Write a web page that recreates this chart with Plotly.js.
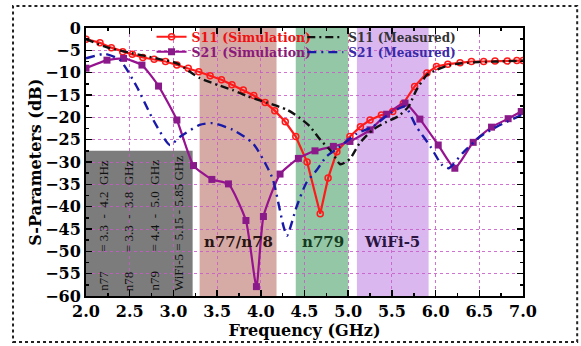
<!DOCTYPE html>
<html><head><meta charset="utf-8">
<script src="https://cdn.plot.ly/plotly-3.0.1.min.js"></script>
<style>html,body{margin:0;padding:0;background:#fff}</style>
</head><body><div id="chart" style="width:581px;height:346px"></div>
<script>
// S11 (Simulation)
const s11SimF = [2.0,2.16,2.29,2.42,2.53,2.65,2.78,2.91,3.04,3.17,3.29,3.42,3.55,3.67,3.80,3.92,4.05,4.16,4.28,4.40,4.53,4.68,4.77,4.87,5.02,5.14,5.25,5.38,5.51,5.63,5.76,5.90,6.01,6.14,6.28,6.41,6.55,6.68,6.82,6.93,7.0];
const s11SimDB = [-2.5,-3.3,-4.4,-5.3,-5.9,-6.6,-7.0,-7.5,-8.3,-9.0,-9.8,-10.7,-11.6,-12.7,-13.9,-15.1,-16.7,-18.5,-21,-24.3,-30,-41.6,-33.6,-27.7,-24.3,-22.1,-20.6,-19.5,-18.7,-16.9,-13.1,-10.1,-8.6,-8.1,-7.8,-7.5,-7.5,-7.4,-7.4,-7.3,-7.3];
// S21 (Simulation)
const s21SimF = [2.0,2.24,2.43,2.64,2.83,3.04,3.23,3.44,3.63,3.83,3.95,4.03,4.22,4.43,4.62,4.83,5.02,5.25,5.44,5.65,5.82,6.03,6.22,6.43,6.64,6.83,6.98];
const s21SimDB = [-9.0,-7.2,-6.8,-8.3,-13,-20.6,-30.8,-33.9,-34.9,-43.1,-57.9,-42.2,-32.7,-29.2,-27.5,-26.5,-25.4,-22.8,-19.3,-16.8,-20.4,-26.2,-31.4,-25.6,-22.2,-20.3,-18.7];
// S11 (Measured)
const s11MeasF = [2.0,2.25,2.54,2.8,3.04,3.30,3.53,3.68,3.85,4.07,4.30,4.45,4.56,4.68,4.81,4.91,5.02,5.13,5.28,5.44,5.57,5.69,5.78,5.90,6.01,6.16,6.3,6.5,6.7,7.0];
const s11MeasDB = [-2.5,-4.4,-5.7,-6.8,-7.9,-11.2,-12.9,-13.9,-15.3,-16.7,-18.3,-20.2,-22,-25,-27.7,-30.5,-29.3,-25.8,-22.8,-21,-19.8,-17.6,-13.9,-10.5,-9.4,-8.3,-7.9,-7.6,-7.5,-7.3];
// S21 (Measured)
const s21MeasF = [2.0,2.22,2.39,2.58,2.77,2.96,3.08,3.30,3.45,3.68,3.91,4.07,4.14,4.26,4.30,4.41,4.52,4.64,4.75,4.91,5.10,5.28,5.48,5.65,5.78,5.94,6.07,6.15,6.31,6.51,6.70,6.98];
const s21MeasDB = [-6.8,-5.8,-7.2,-13.1,-20.6,-26.2,-24.3,-21.7,-21.3,-22.8,-25.8,-31,-34,-44.4,-46.5,-40,-34.7,-31.8,-28.8,-26.5,-23.6,-22.1,-19.1,-17.6,-22.1,-26.5,-30.6,-31.4,-28,-24.3,-22.1,-19.5];

// Frequency bands
const bandNames = ['n77/n78','n779','WiFi-5'];
const bandStart = [3.3,4.4,5.1];
const bandEnd = [4.18,5.0,5.92];
const bandNotes = [
  'n77\u00a0\u00a0\u00a0\u00a0\u00a0\u00a0= 3.3\u00a0\u00a0-\u00a0\u00a04.2\u00a0\u00a0GHz',
  'n78\u00a0\u00a0\u00a0\u00a0\u00a0\u00a0= 3.3\u00a0\u00a0-\u00a0\u00a03.8\u00a0\u00a0GHz',
  'n79\u00a0\u00a0\u00a0\u00a0\u00a0\u00a0= 4.4\u00a0\u00a0-\u00a0\u00a05.0\u00a0\u00a0GHz',
  'WiFi-5 = 5.15 - 5.85 GHz'
];
const noteX = [2.2,2.49,2.78,3.06];

const FONT = 'DejaVu Serif';
const traces = [
  {x:s11SimF, y:s11SimDB, mode:'lines+markers', name:'<span style="color:#ee1111">S11 (Simulation)</span>',
   line:{color:'#ff1a1a', width:2.2}, marker:{symbol:'circle-open', size:6, color:'#ff1a1a', line:{width:1.5}}, legend:'legend'},
  {x:s21SimF, y:s21SimDB, mode:'lines+markers', name:'<span style="color:#8a1a7a">S21 (Simulation)</span>',
   line:{color:'#961290', width:2.2, shape:'spline', smoothing:0.5}, marker:{symbol:'square', size:7, color:'#8a1a8a'}, legend:'legend2'},
  {x:s11MeasF, y:s11MeasDB, mode:'lines', name:'<span style="color:#333333">S11 (Measured)</span>',
   line:{color:'#111111', width:2.4, dash:'8px,4px,2px,4px', shape:'spline', smoothing:0.6}, legend:'legend3'},
  {x:s21MeasF, y:s21MeasDB, mode:'lines', name:'<span style="color:#3a2aa8">S21 (Measured)</span>',
   line:{color:'#1a1aa8', width:2.4, dash:'9px,5px,2px,5px', shape:'spline', smoothing:0.6}, legend:'legend4'}
];

const bandColors = ['rgba(190,120,110,0.62)','rgba(80,165,110,0.62)','rgba(195,135,230,0.6)'];
const shapes = [];
for (let i=0;i<bandNames.length;i++){
  shapes.push({type:'rect', xref:'x', yref:'y', x0:bandStart[i], x1:bandEnd[i], y0:-60, y1:0,
    fillcolor:bandColors[i], line:{width:0}, layer:'below'});
}
shapes.push({type:'rect', xref:'x', yref:'y', x0:2.0, x1:3.22, y0:-60, y1:-27.5,
  fillcolor:'rgba(110,110,110,0.9)', line:{width:0}, layer:'below'});
shapes.push({type:'rect', xref:'paper', yref:'paper', x0:-0.167, x1:1.124, y0:-0.172, y1:1.082,
  line:{color:'#222', width:2, dash:'dot'}, fillcolor:'rgba(0,0,0,0)', layer:'below'});

const annotations = [];
const labelX = [3.75,4.71,5.5];
const labelCol = ['#2a1414','#143a20','#2a1440'];
for (let i=0;i<bandNames.length;i++){
  annotations.push({x:labelX[i], y:-48, xref:'x', yref:'y', text:bandNames[i], showarrow:false,
    font:{family:FONT, size:15, weight:'bold', color:labelCol[i]}});
}
for (let i=0;i<bandNotes.length;i++){
  annotations.push({x:noteX[i], y:-59.3, xref:'x', yref:'y', text:bandNotes[i], showarrow:false,
    textangle:-90, yanchor:'bottom', xanchor:'center', font:{family:'Liberation Serif', size:13, color:'#111'}});
}
annotations.push({x:-0.117, y:0.5, xref:'paper', yref:'paper', text:'S-Parameters (dB)', showarrow:false,
  textangle:-90, xanchor:'center', yanchor:'middle', font:{family:FONT, size:16, weight:'bold', color:'#000'}});

function leg(xp, yp, w, fs){
  return {x:xp, y:yp, xanchor:'left', yanchor:'middle', bgcolor:'rgba(0,0,0,0)', borderwidth:0,
    font:{family:FONT, size:fs, weight:'bold'}, itemwidth:w, tracegroupgap:0};
}

const axisCommon = {showline:true, linecolor:'#000', linewidth:2, mirror:'ticks', ticks:'inside',
  ticklen:6, tickwidth:1.5, tickcolor:'#000', showgrid:true, gridcolor:'rgba(200,90,200,0.85)', griddash:'dot', gridwidth:1,
  zeroline:false, tickfont:{family:FONT, size:16, weight:'bold', color:'#000'}};

const layout = {
  width:581, height:346, margin:{l:86, r:58, t:28, b:50},
  paper_bgcolor:'#fff', plot_bgcolor:'#fff', showlegend:true,
  xaxis:Object.assign({}, axisCommon, {range:[2,7], dtick:0.5, tick0:2, tickformat:'.1f',
    minor:{ticks:'inside', ticklen:3, dtick:0.25, tickcolor:'#000', showgrid:false},
    title:{text:'Frequency (GHz)', standoff:4, font:{family:FONT, size:16, weight:'bold', color:'#000'}}}),
  yaxis:Object.assign({}, axisCommon, {range:[-60,0], dtick:5,
    minor:{ticks:'inside', ticklen:3, dtick:2.5, tickcolor:'#000', showgrid:false}}),
  legend:leg(0.15, 0.966, 30, 12.5),
  legend2:leg(0.15, 0.91, 30, 12.5),
  legend3:leg(0.495, 0.966, 36, 12),
  legend4:leg(0.495, 0.91, 36, 12),
  shapes:shapes, annotations:annotations
};
Plotly.newPlot('chart', traces, layout, {staticPlot:true, displayModeBar:false});
</script></body></html>
